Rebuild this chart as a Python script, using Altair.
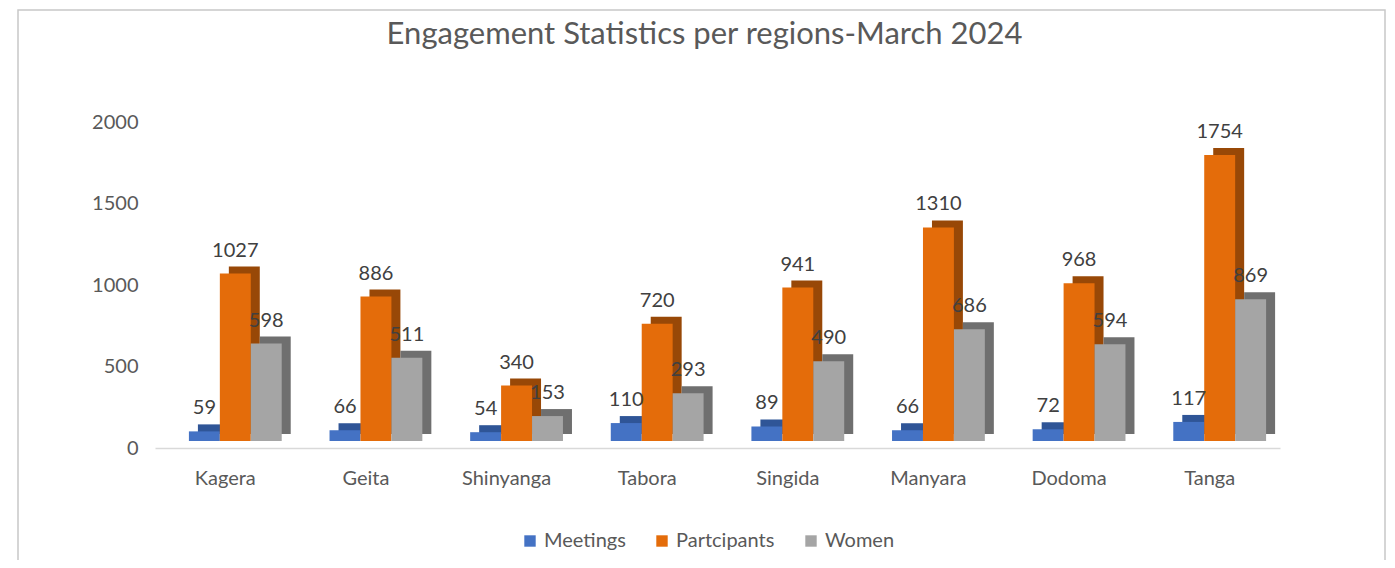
import altair as alt
import pandas as pd

categories = ["Kagera", "Geita", "Shinyanga", "Tabora", "Singida", "Manyara", "Dodoma", "Tanga"]
series = ["Meetings", "Partcipants", "Women"]
meetings = [59, 66, 54, 110, 89, 66, 72, 117]
participants = [1027, 886, 340, 720, 941, 1310, 968, 1754]
women = [598, 511, 153, 293, 490, 686, 594, 869]
y_ticks = [0, 500, 1000, 1500, 2000]

front_colors = ["#4472C4", "#E46C0A", "#A5A5A5"]
side_colors = ["#2F5597", "#984807", "#6F6F6F"]

rows = []
for i, c in enumerate(categories):
    for s, vals in zip(series, [meetings, participants, women]):
        rows.append({"region": c, "series": s, "value": vals[i]})
df = pd.DataFrame(rows)

FONT = "Lato"
LABEL_COLOR = "#595959"

# band geometry (style only): plot width 1125, 8 bands, paddingInner 0.34
BAND = 1125 / 8 * 0.66
FRONT_SHIFT = 10
DEPTH_X = 9
DEPTH_Y = 7

x_enc = alt.X(
    "region:N", sort=categories,
    scale=alt.Scale(paddingInner=0.34, paddingOuter=0.17),
    axis=alt.Axis(title=None, labelAngle=0, ticks=False, domainColor="#D9D9D9",
                  domainWidth=1.5, labelFontSize=20, labelColor=LABEL_COLOR,
                  labelFont=FONT, labelPadding=20),
)


def xo(shift):
    return alt.XOffset("series:N", sort=series,
                       scale=alt.Scale(paddingInner=0, paddingOuter=0,
                                       range=[shift, shift + BAND]))


y_enc = alt.Y(
    "value:Q",
    scale=alt.Scale(domain=[0, 2000], nice=False),
    axis=alt.Axis(title=None, values=y_ticks, format="d", grid=False, domain=False,
                  ticks=False, labelFontSize=20, labelColor=LABEL_COLOR, labelFont=FONT,
                  labelPadding=17),
)

base = alt.Chart(df)

sides = base.mark_bar(yOffset=-(DEPTH_Y * 2), y2Offset=-(DEPTH_Y * 2)).encode(
    x=x_enc, xOffset=xo(FRONT_SHIFT + DEPTH_X), y=y_enc,
    color=alt.Color("series:N", scale=alt.Scale(domain=series, range=side_colors), legend=None),
)

fronts = base.mark_bar(yOffset=-DEPTH_Y, y2Offset=-DEPTH_Y).encode(
    x=x_enc, xOffset=xo(FRONT_SHIFT), y=y_enc,
    color=alt.Color(
        "series:N", scale=alt.Scale(domain=series, range=front_colors),
        legend=alt.Legend(title=None, orient="none", legendX=365, legendY=409,
                          direction="horizontal", symbolType="square", symbolSize=130,
                          symbolStrokeWidth=0, labelFontSize=20, labelColor=LABEL_COLOR,
                          labelFont=FONT, columnPadding=26),
    ),
)

labels = base.mark_text(dy=-24, baseline="alphabetic", align="center",
                        fontSize=20, font=FONT, color="#404040").encode(
    x=x_enc,
    xOffset=alt.XOffset("series:N", sort=series,
                        scale=alt.Scale(type="point", padding=0.5,
                                        range=[FRONT_SHIFT, FRONT_SHIFT + BAND])),
    y=y_enc, text="value:Q",
)

frame = alt.Chart(alt.Data(values=[{"a": 1}])).mark_rect(
    fillOpacity=0, stroke="#C8C8C8", strokeWidth=1.5
).encode(x=alt.value(-137), x2=alt.value(1230), y=alt.value(-112), y2=alt.value(470))

chart = alt.layer(frame, sides, fronts, labels).resolve_scale(
    color="independent", xOffset="independent"
).properties(
    width=1125, height=326,
    background="white",
    autosize=alt.AutoSizeParams(type="none"),
    padding={"left": 147, "top": 114, "right": 107, "bottom": 112},
    title=alt.TitleParams("Engagement Statistics per regions-March 2024", fontSize=31,
                          font=FONT, color=LABEL_COLOR, fontWeight="normal",
                          anchor="middle", frame="group", baseline="bottom",
                          offset=-73, dx=-13),
).configure_view(stroke=None)

chart.save("out.html", embed_options={"renderer": "svg", "actions": False})
